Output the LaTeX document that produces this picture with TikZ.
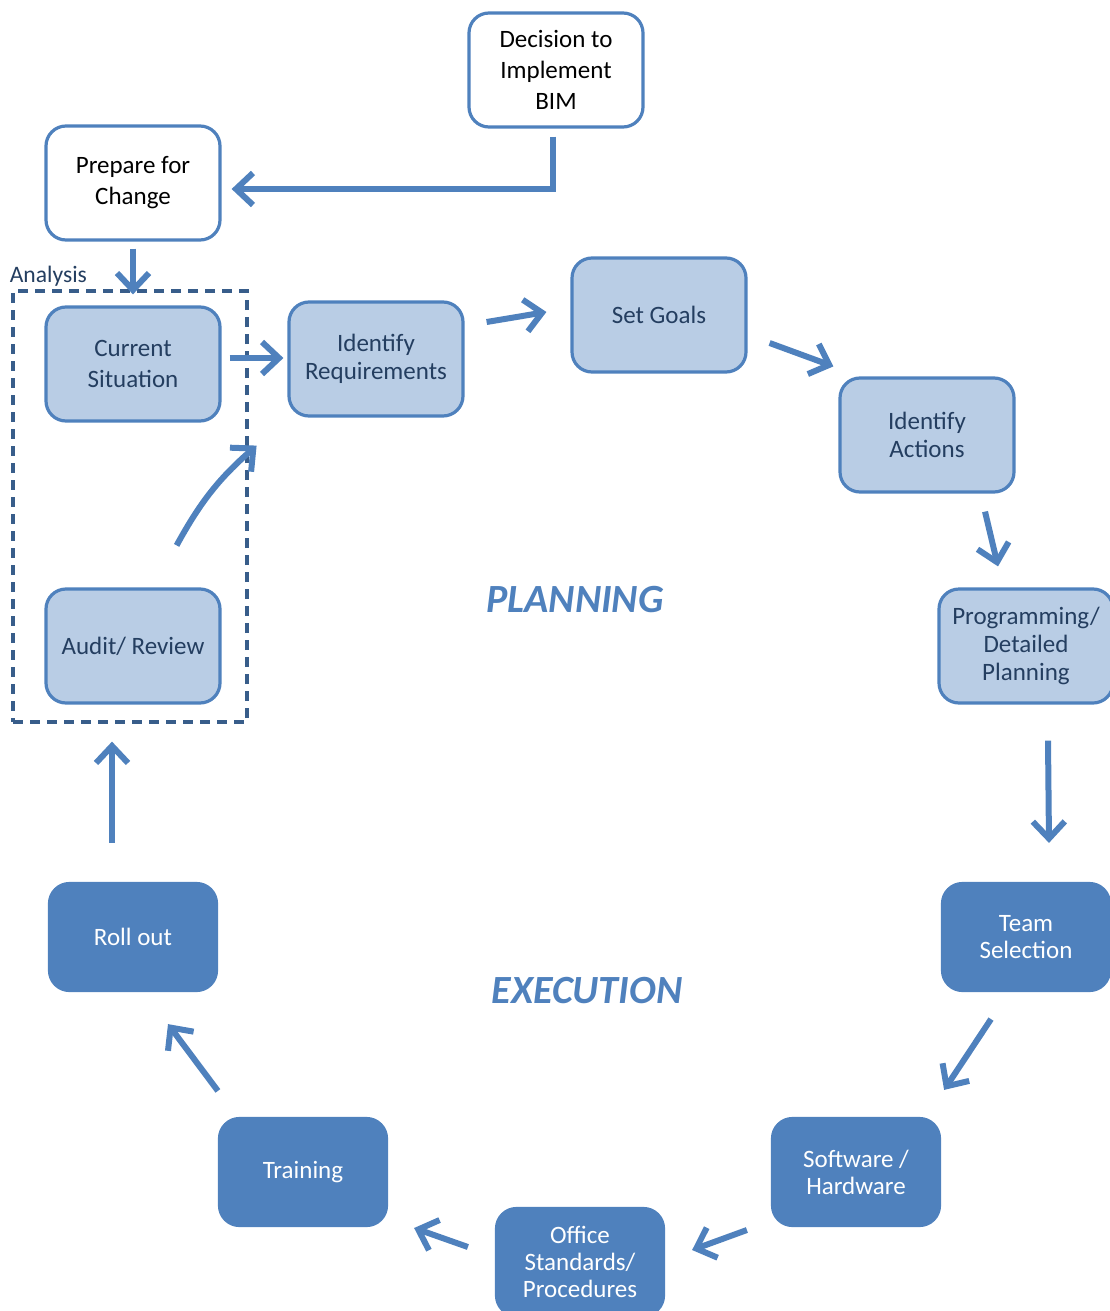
\documentclass[tikz,border=0pt]{standalone}
\usepackage{fontspec}
\setmainfont{Carlito}
\usetikzlibrary{shapes,arrows.meta,positioning,fit}
\definecolor{bimblue}{RGB}{79,129,189}
\definecolor{bimlight}{RGB}{185,205,229}
\definecolor{bimdash}{RGB}{56,93,138}
\definecolor{bimtext}{RGB}{36,62,96}
\tikzstyle{arrow} = [line width=3pt, draw=bimblue, -{Straight Barb[length=8.5pt,width=16pt]}]

\begin{document}
\begin{tikzpicture}[x=0.5pt,y=-0.5pt]
    \tikzstyle{startbox}=[draw=bimblue, line width=1.6pt, fill=white, rounded corners=10pt, minimum width=87pt, minimum height=57pt, align=center, font=\fontsize{12.5}{15.5}\selectfont]
    \tikzstyle{planbox}=[startbox, fill=bimlight, text=bimtext, font=\fontsize{12.5}{14}\selectfont]
    \tikzstyle{execbox}=[startbox, fill=bimblue, text=white, minimum width=83.5pt, minimum height=53.5pt, font=\fontsize{12.5}{13.5}\selectfont]
    \tikzstyle{phase}=[text=bimblue, font=\fontsize{20}{24}\selectfont\bfseries\itshape]
    \tikzstyle{dashbox}=[draw=bimdash, line width=1.6pt, dash pattern=on 5pt off 3.5pt, minimum width=117pt, minimum height=215.5pt]

    \useasboundingbox (0,0) rectangle (1109,1311);

    \node[startbox] (dec) at (556,70) {Decision to\\Implement\\BIM};
    \node[startbox] (prep) at (133,183) {Prepare for\\Change};

    \node[dashbox] (analysis) at (130,506.5) {};
    \node[anchor=base west, inner sep=0pt, text=bimtext, font=\fontsize{11.8}{13}\selectfont] (alabel) at ([shift={(-2,-7)}]analysis.north west) {Analysis};

    \node[planbox, font=\fontsize{12.5}{15.5}\selectfont] (cur) at (133,364) {Current\\Situation};
    \node[planbox] (req) at (376,359) {Identify\\Requirements};
    \node[planbox] (goals) at (659,315) {Set Goals};
    \node[planbox] (act) at (927,435) {Identify\\Actions};
    \node[planbox] (prog) at (1026,646) {Programming/\\Detailed\\Planning};
    \node[planbox] (audit) at (133,646) {Audit/ Review};

    \node[execbox] (team) at (1026,937) {Team\\Selection};
    \node[execbox] (soft) at (856,1172) {Software /\\Hardware};
    \node[execbox] (office) at (580,1262) {Office\\Standards/\\Procedures};
    \node[execbox] (train) at (303,1172) {Training};
    \node[execbox] (roll) at (133,937) {Roll out};

    \node[phase] (plan) at (575,600) {PLANNING};
    \node[phase] (exec) at (587,991) {EXECUTION};

    \draw[arrow] ([shift={(-3,8)}]dec.south) |- ([shift={(10,6)}]prep.east);
    \draw[arrow] ([shift={(0,7)}]prep.south) -- ([shift={(0,-11)}]cur.north);
    \draw[arrow] ([shift={(8,-6)}]cur.east) -- ([shift={(-4,-1)}]req.west);
    \draw[arrow] ([shift={(22,-37)}]req.east) -- ([shift={(-24,-3)}]goals.west);
    \draw[arrow] ([shift={(22,28)}]goals.east) -- ([shift={(-5,-10)}]act.north west);
    \draw[arrow] ([shift={(58,18)}]act.south) -- ([shift={(-28,-21)}]prog.north);
    \draw[arrow] ([shift={(22,36)}]prog.south) -- ([shift={(23,-39)}]team.north);
    \draw[arrow] ([shift={(-35,27)}]team.south) -- ([shift={(3,-27)}]soft.north east);
    \draw[arrow] ([shift={(-24,58)}]soft.west) -- ([shift={(27,-12)}]office.east);
    \draw[arrow] ([shift={(-27,-15)}]office.west) -- ([shift={(26,56)}]train.east);
    \draw[arrow] ([shift={(0,-26)}]train.north west) -- ([shift={(35,32)}]roll.south);
    \draw[arrow] ([shift={(-21,-39)}]roll.north) -- ([shift={(-21,37)}]audit.south);
    \draw[arrow] ([shift={(-45,-42)}]audit.north east) to[bend left=10] ([shift={(35,23)}]cur.south east);
\end{tikzpicture}
\end{document}
